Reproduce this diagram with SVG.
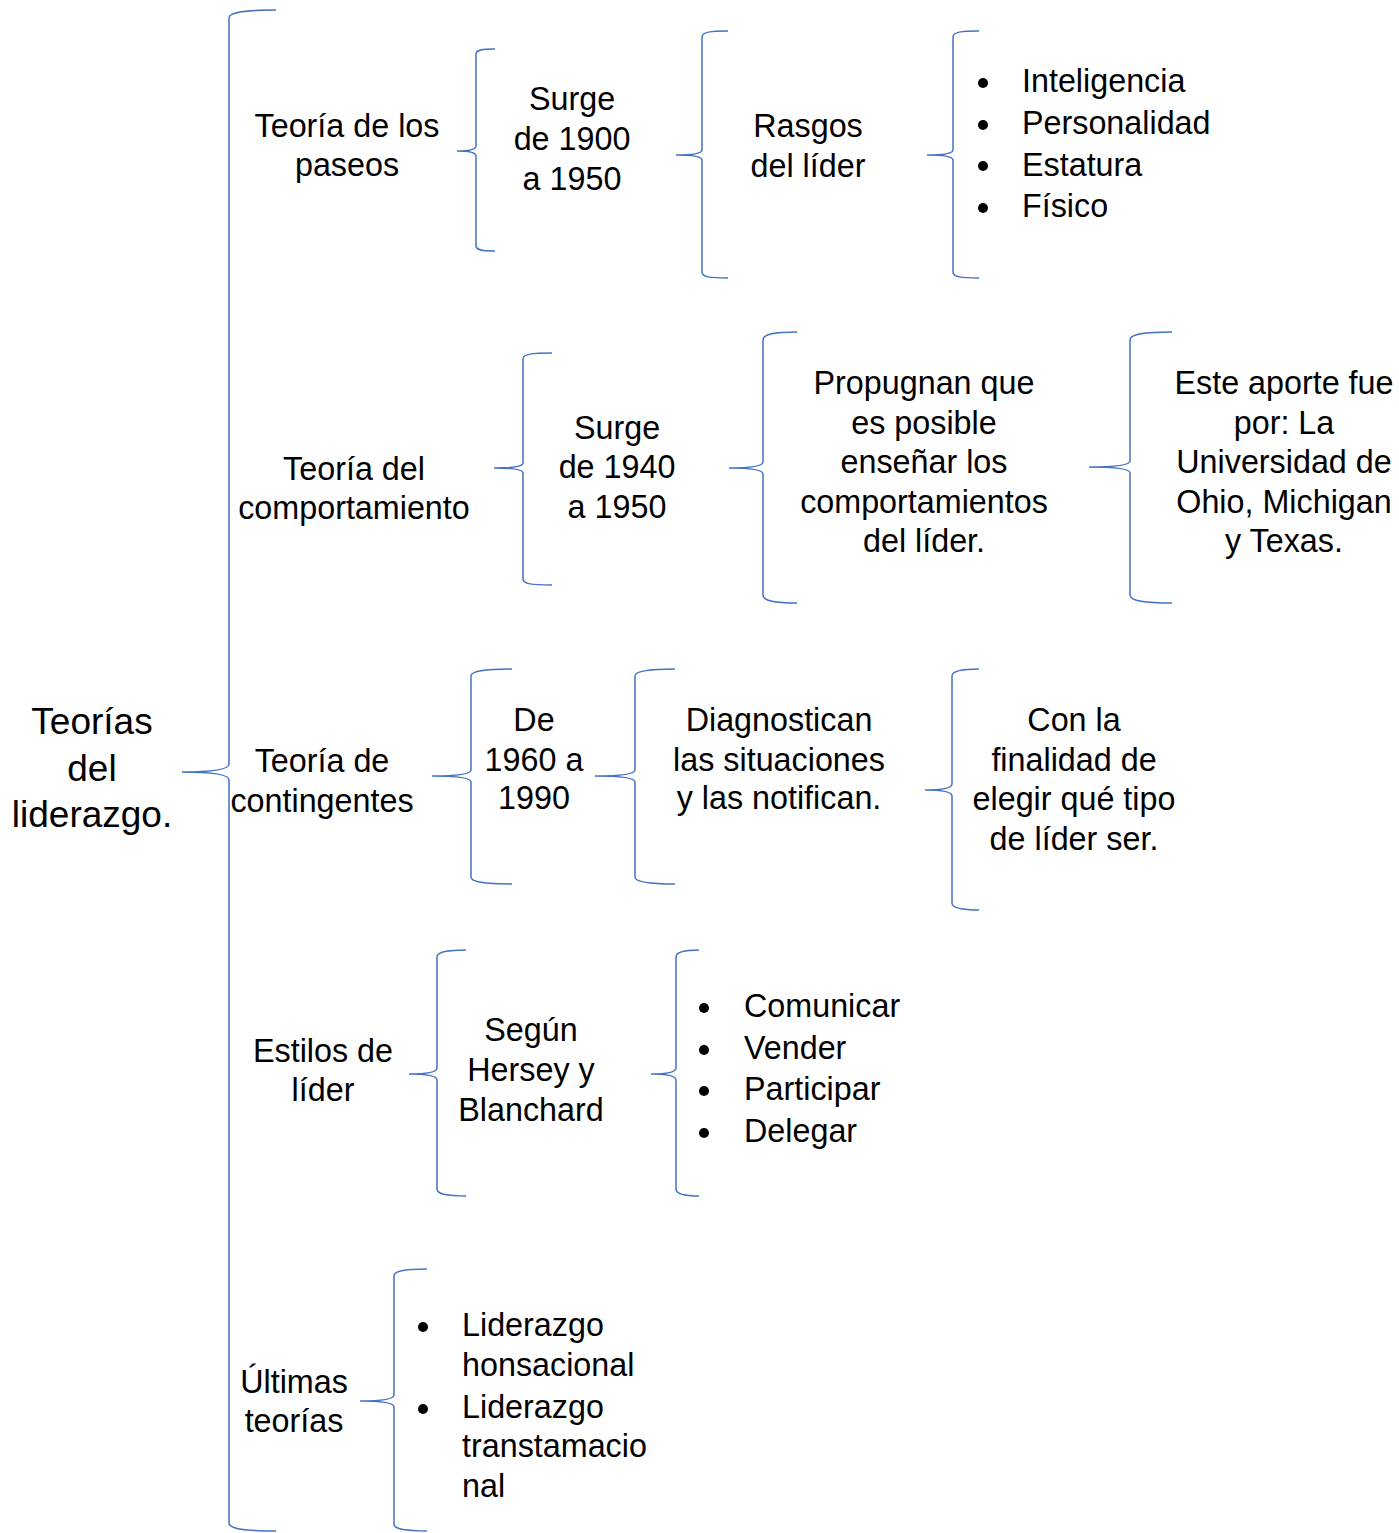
<svg xmlns="http://www.w3.org/2000/svg" width="1399" height="1533" viewBox="0 0 1399 1533">
<style>
.b{fill:none;stroke:#4472c4;stroke-width:1.5}
text{font-family:"Liberation Sans",Arial,sans-serif;font-size:32.3px;fill:#000}
.c{text-anchor:middle}
.t{font-size:37px}
</style>
<rect width="1399" height="1533" fill="#fff"/>
<g id="connectors">
<path class="b" d="M276,10 C245,10 229,12 229,18 L229,764 C229,769 214,772 182,772 C214,772 229,775 229,780 L229,1523 C229,1529 245,1531 276,1531"/>
<path class="b" d="M495,49 C482,49 476,50 476,54 L476,146 C476,149 470,151 457,151 C470,151 476,153 476,156 L476,246 C476,250 482,251 495,251"/>
<path class="b" d="M728,31 C710,31 702,32 702,37 L702,150 C702,153 694,155 676,155 C694,155 702,157 702,160 L702,272 C702,277 710,278 728,278"/>
<path class="b" d="M979,31 C961,31 953,32 953,37 L953,150 C953,153 945,155 927,155 C945,155 953,157 953,160 L953,272 C953,277 961,278 979,278"/>
<path class="b" d="M552,353 C532,353 523,354 523,359 L523,463 C523,466 514,468 494,468 C514,468 523,470 523,473 L523,579 C523,584 532,585 552,585"/>
<path class="b" d="M797,332 C774,332 763,334 763,340 L763,462 C763,466 752,468 729,468 C752,468 763,470 763,474 L763,595 C763,601 774,603 797,603"/>
<path class="b" d="M1172,332 C1144,332 1130,334 1130,340 L1130,461 C1130,465 1117,467 1089,467 C1117,467 1130,469 1130,473 L1130,595 C1130,601 1144,603 1172,603"/>
<path class="b" d="M512,669 C484,669 471,671 471,676 L471,770 C471,774 459,776 432,776 C459,776 471,778 471,782 L471,877 C471,882 484,884 512,884"/>
<path class="b" d="M675,669 C648,669 635,671 635,676 L635,770 C635,774 623,776 595,776 C623,776 635,778 635,782 L635,877 C635,882 648,884 675,884"/>
<path class="b" d="M979,669 C961,669 952,671 952,676 L952,784 C952,788 944,790 925,790 C944,790 952,792 952,796 L952,903 C952,908 961,910 979,910"/>
<path class="b" d="M466,950 C446,950 437,952 437,957 L437,1068 C437,1072 429,1074 409,1074 C429,1074 437,1076 437,1080 L437,1189 C437,1194 446,1196 466,1196"/>
<path class="b" d="M699,950 C683,950 676,952 676,957 L676,1068 C676,1072 668,1074 651,1074 C668,1074 676,1076 676,1080 L676,1189 C676,1194 683,1196 699,1196"/>
<path class="b" d="M427,1269 C404,1269 394,1271 394,1276 L394,1395 C394,1399 383,1401 360,1401 C383,1401 394,1403 394,1407 L394,1524 C394,1529 404,1531 427,1531"/>
</g>
<g id="root"><text class="c t" x="92" y="734">Teorías</text><text class="c t" x="92" y="781">del</text><text class="c t" x="92" y="827">liderazgo.</text></g>
<g id="n1"><text class="c" x="347" y="137">Teoría de los</text><text class="c" x="347" y="176">paseos</text></g>
<g id="n1a"><text class="c" x="572" y="110">Surge</text><text class="c" x="572" y="150">de 1900</text><text class="c" x="572" y="190">a 1950</text></g>
<g id="n1b"><text class="c" x="808" y="137">Rasgos</text><text class="c" x="808" y="177">del líder</text></g>
<g id="n1c"><circle cx="983" cy="83" r="5"/><text x="1022" y="92">Inteligencia</text><circle cx="983" cy="125" r="5"/><text x="1022" y="134">Personalidad</text><circle cx="983" cy="166" r="5"/><text x="1022" y="176">Estatura</text><circle cx="983" cy="208" r="5"/><text x="1022" y="217">Físico</text></g>
<g id="n2"><text class="c" x="354" y="480">Teoría del</text><text class="c" x="354" y="519">comportamiento</text></g>
<g id="n2a"><text class="c" x="617" y="439">Surge</text><text class="c" x="617" y="478">de 1940</text><text class="c" x="617" y="518">a 1950</text></g>
<g id="n2b"><text class="c" x="924" y="394">Propugnan que</text><text class="c" x="924" y="434">es posible</text><text class="c" x="924" y="473">enseñar los</text><text class="c" x="924" y="513">comportamientos</text><text class="c" x="924" y="552">del líder.</text></g>
<g id="n2c"><text class="c" x="1284" y="394">Este aporte fue</text><text class="c" x="1284" y="434">por: La</text><text class="c" x="1284" y="473">Universidad de</text><text class="c" x="1284" y="513">Ohio, Michigan</text><text class="c" x="1284" y="552">y Texas.</text></g>
<g id="n3"><text class="c" x="322" y="772">Teoría de</text><text class="c" x="322" y="812">contingentes</text></g>
<g id="n3a"><text class="c" x="534" y="731">De</text><text class="c" x="534" y="771">1960 a</text><text class="c" x="534" y="809">1990</text></g>
<g id="n3b"><text class="c" x="779" y="731">Diagnostican</text><text class="c" x="779" y="771">las situaciones</text><text class="c" x="779" y="809">y las notifican.</text></g>
<g id="n3c"><text class="c" x="1074" y="731">Con la</text><text class="c" x="1074" y="771">finalidad de</text><text class="c" x="1074" y="810">elegir qué tipo</text><text class="c" x="1074" y="850">de líder ser.</text></g>
<g id="n4"><text class="c" x="323" y="1062">Estilos de</text><text class="c" x="323" y="1101">líder</text></g>
<g id="n4a"><text class="c" x="531" y="1041">Según</text><text class="c" x="531" y="1081">Hersey y</text><text class="c" x="531" y="1121">Blanchard</text></g>
<g id="n4b"><circle cx="704" cy="1008" r="5"/><text x="744" y="1017">Comunicar</text><circle cx="704" cy="1050" r="5"/><text x="744" y="1059">Vender</text><circle cx="704" cy="1091" r="5"/><text x="744" y="1100">Participar</text><circle cx="704" cy="1133" r="5"/><text x="744" y="1142">Delegar</text></g>
<g id="n5"><text class="c" x="294" y="1393">Últimas</text><text class="c" x="294" y="1432">teorías</text></g>
<g id="n5a"><circle cx="423" cy="1327" r="5"/><text x="462" y="1336">Liderazgo</text><text x="462" y="1376">honsacional</text><circle cx="423" cy="1409" r="5"/><text x="462" y="1418">Liderazgo</text><text x="462" y="1457">transtamacio</text><text x="462" y="1497">nal</text></g>
</svg>
